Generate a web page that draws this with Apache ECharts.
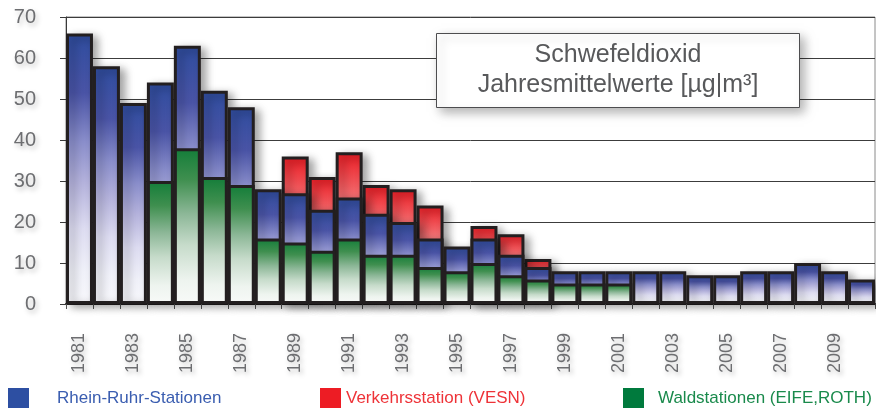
<!DOCTYPE html>
<html>
<head>
<meta charset="utf-8">
<script src="https://cdn.jsdelivr.net/npm/echarts@6/dist/echarts.min.js"></script>
<style>
html,body{margin:0;padding:0;background:#fff;}
#chart{width:876px;height:408px;}
</style>
</head>
<body>
<div id="chart"></div>
<script>
var years = ['1981','1982','1983','1984','1985','1986','1987','1988','1989','1990','1991','1992','1993','1994','1995','1996','1997','1998','1999','2000','2001','2002','2003','2004','2005','2006','2007','2008','2009','2010'];
var rheinRuhr = [66,58,49,54,63,52,48,28,27,23,26,22,20,16,14,16,12,9,8,8,8,8,8,7,7,8,8,10,8,6];
var verkehr = [null,null,null,null,null,null,null,null,36,31,37,29,28,24,null,19,17,11,null,null,null,null,null,null,null,null,null,null,null,null];
var wald = [null,null,null,30,38,31,29,16,15,13,16,12,12,9,8,10,7,6,5,5,5,null,null,null,null,null,null,null,null,null];
var yTicks = [0,10,20,30,40,50,60,70];

var nameRR = 'Rhein-Ruhr-Stationen';
var nameV = 'Verkehrsstation (VESN)';
var nameW = 'Waldstationen (EIFE,ROTH)';

function grad(stops){
  return {type:'linear',x:0,y:0,x2:0,y2:1,colorStops:stops.map(function(s){return {offset:s[0],color:s[1]};})};
}
var blueGrad = grad([[0,'#2f4d9f'],[0.22,'#4a54a6'],[0.4,'#8a8ecb'],[0.55,'#b4b2dc'],[0.72,'#dddcf1'],[0.88,'#f0f1f9'],[1,'#f8f8fc']]);
var greenGrad = grad([[0,'#137d39'],[0.2,'#3f8f4f'],[0.42,'#8cb797'],[0.62,'#c6dbca'],[0.85,'#eef4ef'],[1,'#f8faf8']]);
var redGrad = grad([[0,'#ec1c24'],[0.28,'#f26a6d'],[0.6,'#f8b8b8'],[1,'#fdf2f2']]);

var txtShadow = {textShadowColor:'rgba(0,0,0,0.25)',textShadowBlur:5,textShadowOffsetX:2,textShadowOffsetY:3};
var font = 'Liberation Sans, Arial, Helvetica, sans-serif';

var barBase = {
  type:'bar',
  barGap:'-100%',
  barCategoryGap:'0%',
  emphasis:{disabled:true}
};

var titlePad = 41;
var option = {
  animation:false,
  backgroundColor:'#ffffff',
  textStyle:{fontFamily:font},
  title:{
    text:'Schwefeldioxid\nJahresmittelwerte [µg|m³]',
    left:618 - titlePad, top:33, textAlign:'center',
    padding:[7,titlePad,8,titlePad],
    backgroundColor:'#ffffff',
    borderColor:'#4d4d4f', borderWidth:1,
    shadowColor:'rgba(0,0,0,0.3)', shadowBlur:10, shadowOffsetX:4, shadowOffsetY:4,
    textStyle:{fontFamily:font,fontSize:25,fontWeight:'normal',color:'#58595b',lineHeight:30}
  },
  legend:[
    {left:8, top:388, padding:0, itemWidth:21, itemHeight:20, icon:'rect', selectedMode:false,
     data:[{name:nameRR,itemStyle:{color:'#2d4fa2',borderWidth:0,shadowBlur:0},textStyle:{color:'#3a5db0',fontSize:17,padding:[0,0,0,23]}}],
     textStyle:{fontFamily:font}},
    {left:320, top:388, padding:0, itemWidth:21, itemHeight:20, icon:'rect', selectedMode:false,
     data:[{name:nameV,itemStyle:{color:'#ed1c24',borderWidth:0,shadowBlur:0},textStyle:{color:'#ee3338',fontSize:17,padding:[0,0,0,0]}}],
     textStyle:{fontFamily:font}},
    {left:623, top:388, padding:0, itemWidth:21, itemHeight:20, icon:'rect', selectedMode:false,
     data:[{name:nameW,itemStyle:{color:'#007a3d',borderWidth:0,shadowBlur:0},textStyle:{color:'#1a8a4c',fontSize:17,padding:[0,0,0,9]}}],
     textStyle:{fontFamily:font}}
  ],
  grid:{left:66,right:1,top:17,bottom:104,show:true,borderColor:'#8a8a8a',borderWidth:1,backgroundColor:'transparent'},
  xAxis:{
    type:'category',
    data:years,
    boundaryGap:true,
    axisLine:{show:true,lineStyle:{color:'#231f20',width:2}},
    axisTick:{show:true,interval:0,length:5,lineStyle:{color:'#555',width:1}},
    axisLabel:Object.assign({interval:1,rotate:90,margin:29,fontSize:18,color:'#6d6e71',fontFamily:font},txtShadow),
    splitLine:{show:false}
  },
  yAxis:{
    type:'value',
    min:yTicks[0], max:yTicks[yTicks.length-1], interval:10,
    axisLine:{show:true,lineStyle:{color:'#3a3a3a',width:1}},
    axisTick:{show:true,length:6,lineStyle:{color:'#3a3a3a',width:1}},
    axisLabel:Object.assign({margin:30,fontSize:20,color:'#6d6e71',fontFamily:font},txtShadow),
    splitLine:{show:true,lineStyle:{color:'#3c3c3c',width:1}}
  },
  series:[
    Object.assign({},barBase,{name:nameV,data:verkehr,z:2,
      itemStyle:{color:redGrad,borderColor:'#231f20',borderWidth:3,shadowColor:'rgba(0,0,0,0.35)',shadowBlur:8,shadowOffsetX:5,shadowOffsetY:3}}),
    Object.assign({},barBase,{name:nameRR,data:rheinRuhr,z:3,
      itemStyle:{color:blueGrad,borderColor:'#231f20',borderWidth:3,shadowColor:'rgba(0,0,0,0.35)',shadowBlur:8,shadowOffsetX:5,shadowOffsetY:3}}),
    Object.assign({},barBase,{name:nameW,data:wald,z:4,
      itemStyle:{color:greenGrad,borderColor:'#231f20',borderWidth:3}})
  ]
};
var chart = echarts.init(document.getElementById('chart'),null,{renderer:'canvas'});
chart.setOption(option);
</script>
</body>
</html>
